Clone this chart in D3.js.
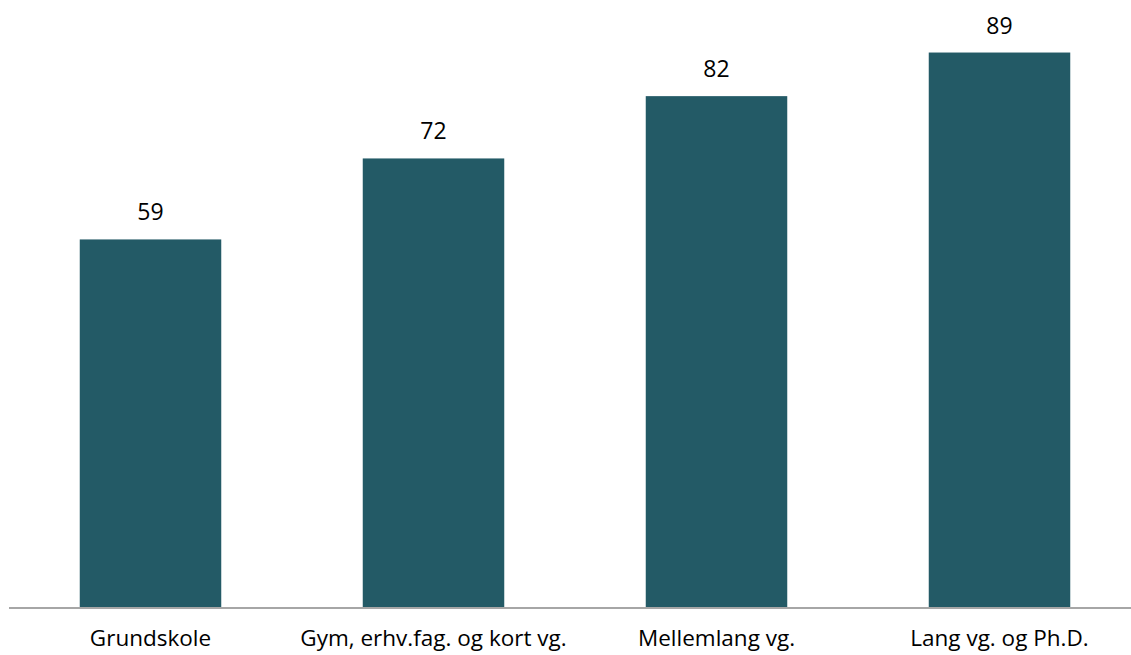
<!DOCTYPE html>
<html><head><meta charset="utf-8">
<script src="https://cdn.jsdelivr.net/npm/d3@7"></script>
<style>body{margin:0;background:#fff}svg{display:block}text{font-family:"Open Sans",sans-serif;fill:#000}</style>
</head><body><svg id="c" width="1131" height="655"></svg>
<script>
const categories = ["Grundskole", "Gym, erhv.fag. og kort vg.", "Mellemlang vg.", "Lang vg. og Ph.D."];
const values = [59, 72, 82, 89];

const svg = d3.select("#c");
const baseY = 607;
const x = d3.scaleBand().domain(categories).range([9, 1141]).paddingInner(0.5).paddingOuter(0.25);
const y = d3.scaleLinear().domain([0, 100]).range([baseY, -16]);

svg.selectAll("rect.bar").data(values).join("rect")
  .attr("class", "bar")
  .attr("x", (d, i) => x(categories[i]))
  .attr("width", x.bandwidth())
  .attr("y", d => y(d))
  .attr("height", d => y(0) - y(d))
  .attr("fill", "#235a66");

svg.selectAll("text.val").data(values).join("text")
  .attr("class", "val")
  .attr("x", (d, i) => x(categories[i]) + x.bandwidth() / 2)
  .attr("y", d => y(d) - 19)
  .attr("text-anchor", "middle")
  .attr("font-size", 23)
  .text(d => d);

const axis = d3.axisBottom(x).tickSize(0).tickPadding(0);
const g = svg.append("g").attr("transform", `translate(0,${baseY})`).call(axis);
g.select(".domain").attr("d", "M9,1H1131").attr("stroke", "#a6a6a6").attr("stroke-width", 2);
g.selectAll(".tick text").attr("font-size", 22.5).attr("fill", "#000")
  .attr("font-family", "'Open Sans',sans-serif").attr("dy", 0).attr("y", 39);
</script></body></html>
